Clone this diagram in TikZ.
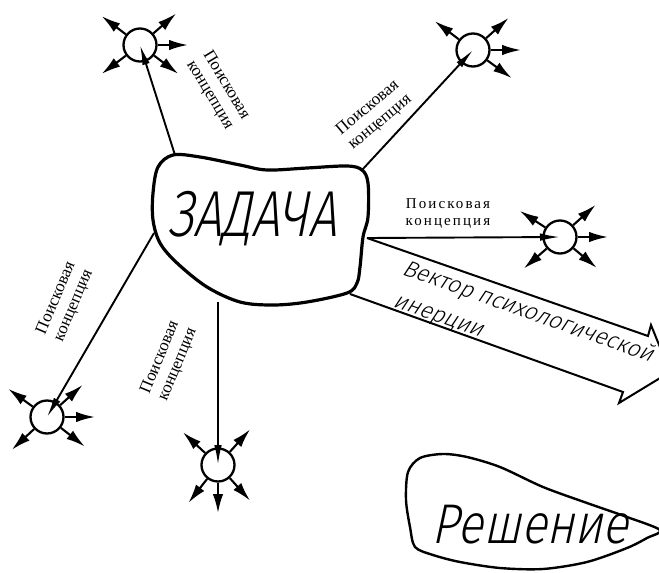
\documentclass[tikz,border=0pt]{standalone}
\usepackage{fontspec}
\usepackage{graphicx}
\usetikzlibrary{arrows.meta,calc}
\newfontfamily\labfont{Liberation Serif}
\newfontfamily\labfontsp[LetterSpace=14]{Liberation Serif}
\IfFontExistsTF{Fira Sans Light}{\newfontfamily\gostfont[FakeSlant=0.25]{Fira Sans Light}}{%
 \IfFontExistsTF{Lato Light}{\newfontfamily\gostfont[FakeSlant=0.25]{Lato Light}}{%
  \IfFontExistsTF{DejaVu Sans ExtraLight}{\newfontfamily\gostfont[FakeSlant=0.25]{DejaVu Sans ExtraLight}}{%
   \newfontfamily\gostfont[FakeSlant=0.25]{Fira Sans}}}}
\begin{document}
\begin{tikzpicture}[x=1pt,y=-1pt,
  blob/.style={line width=3.2pt, line join=round},
  blobthin/.style={line width=2.4pt, line join=round},
  conn/.style={line width=1.9pt, -{Latex[length=20pt,width=7.5pt]}},
  ray/.style={line width=2.1pt, -{Latex[length=19pt,width=10.5pt]}},
  hub/.style={circle, draw, line width=2.3pt, minimum size=33pt, inner sep=0pt},
  lab/.style={font=\labfont\fontsize{17}{19}\selectfont, align=center, inner sep=0pt},
  labh/.style={font=\labfontsp\fontsize{15}{17}\selectfont, align=center, inner sep=0pt},
  gost/.style={font=\gostfont, inner sep=0pt}]
\useasboundingbox (0,0) rectangle (659,573);
\fill[white] (0,0) rectangle (659,573);
\clip (0,0) rectangle (659,573);

% task blob
\draw[blob] plot[smooth cycle, tension=0.55] coordinates {(173,155) (200,157) (240,165) (267,170) (307,168) (347,166) (362,170) (368,183) (368,217) (363,237) (360,267) (357,283) (347,293) (307,302) (273,305) (240,302) (207,287) (177,263) (160,243) (153,220) (153,193) (158,167)};
\node[gost, anchor=base] (task) at (252,236) {\fontsize{65}{70}\selectfont\scalebox{0.77}[1]{ЗАДАЧА}};

\coordinate (z-tl) at (175,155);
\coordinate (z-tr) at (362,170);
\coordinate (z-r) at (367,238);
\coordinate (z-bl) at (154,233);
\coordinate (z-b) at (218,302);
\coordinate (z-lo) at (350,294);

% hubs
\node[hub] (h1) at (140,45) {};
\node[hub] (h2) at (473,50) {};
\node[hub] (h3) at (560,237) {};
\node[hub] (h4) at (47,417) {};
\node[hub] (h5) at (218,465) {};

% connectors
\draw[conn] (z-tl) -- (h1.center);
\draw[conn] (z-tr) -- (h2.center);
\draw[conn] (z-r) -- (h3.center);
\draw[conn] (z-bl) -- (h4.center);
\draw[conn] (z-b) -- (h5.center);

% rays
\foreach \n/\angs in {h1/{143,41,0,-37,-143}, h2/{143,42,0,-36}, h3/{147,42,0,-40,-139}, h4/{144,42,0,-38,-137}, h5/{137,48,-128,-90,-48}} {
  \foreach \a in \angs {
    \coordinate (\n-r\a) at ($(\n.center)+(\a:48pt)$);
    \draw[ray] (\n.\a) -- (\n-r\a);
  }
}

% labels
\node[lab, rotate=-59] (l1) at (218,90) {Поисковая\\концепция};
\node[lab, rotate=40] (l2) at (374,115) {Поисковая\\концепция};
\node[labh] (l3) at (448,214) {Поисковая\\концепция};
\node[lab, rotate=67] (l4) at (65,302) {Поисковая\\концепция};
\node[lab, rotate=67.5] (l5) at (169,361) {Поисковая\\концепция};

% inertia vector
\coordinate (v-ub) at (648,336);
\coordinate (v-ubarb) at (651,325);
\coordinate (v-tip) at (670,372);
\coordinate (v-lbarb) at (619,403);
\coordinate (v-lb) at (623,392);
\draw[line width=2pt, line join=miter] (z-r) -- (v-ub) -- (v-ubarb) -- (v-tip) -- (v-lbarb) -- (v-lb) -- (z-lo);
\node[gost, rotate=-19.5, anchor=base west] (v1) at (401,274) {\fontsize{23}{28}\selectfont Вектор психологической};
\node[gost, rotate=-19.5, anchor=base west] (v2) at (392,306) {\fontsize{23}{28}\selectfont инерции};

% solution blob
\draw[blobthin] plot[smooth cycle, tension=0.5] coordinates {(408,472) (420,458) (443,454) (467,457) (500,467) (543,487) (587,503) (627,517) (660,530) (647,538) (627,548) (587,562) (543,569) (500,568) (460,562) (433,555) (415,547) (410,527) (406,500)};
\node[gost, anchor=base] (sol) at (530,543) {\fontsize{56}{60}\selectfont\scalebox{0.85}[1]{Решение}};
\end{tikzpicture}
\end{document}
